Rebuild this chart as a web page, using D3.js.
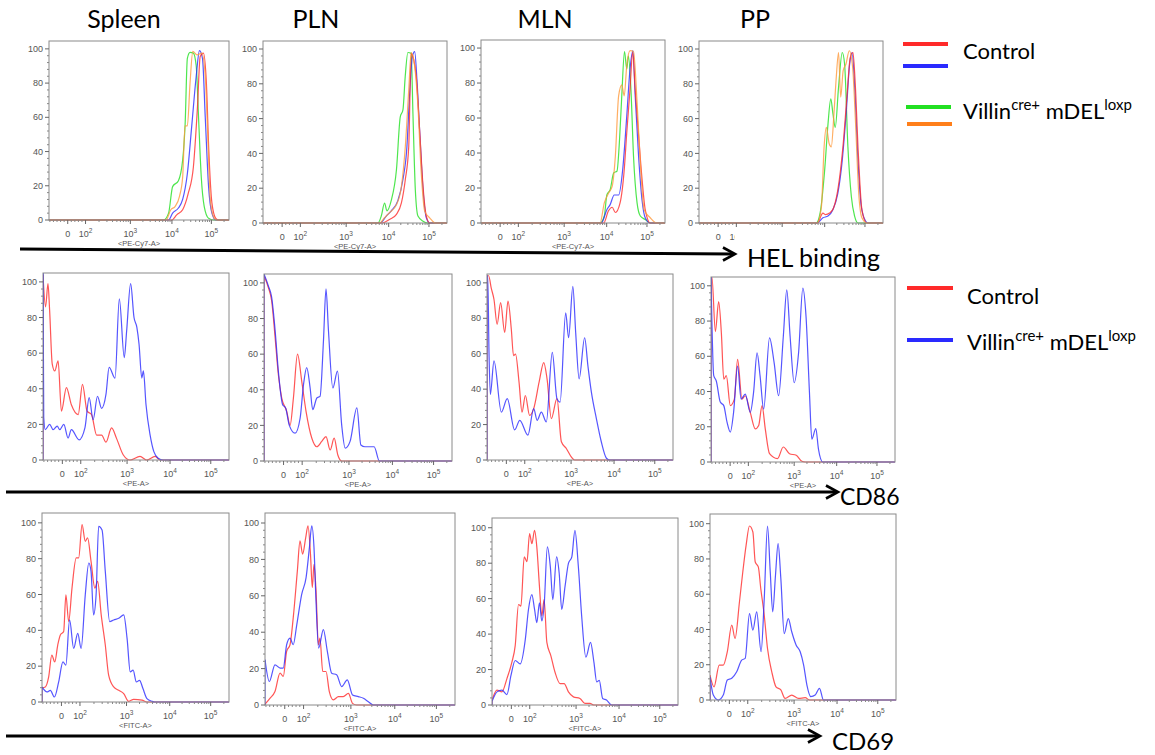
<!DOCTYPE html>
<html>
<head>
<meta charset="utf-8">
<script src="https://cdn.jsdelivr.net/npm/d3@7/dist/d3.min.js"></script>
<style>
  body { margin: 0; background: #fff; }
  svg { display: block; }
</style>
</head>
<body>
<svg id="fig" width="1155" height="755"></svg>
<script>
// ---- categories / labels ------------------------------------------------
const tissues  = ['Spleen', 'PLN', 'MLN', 'PP'];
const markers  = ['HEL binding', 'CD86', 'CD69'];
const channels = ['<PE-Cy7-A>', '<PE-A>', '<FITC-A>'];
const xTicks   = [0, 100, 1000, 10000, 100000];
const xTickExp = [null, 2, 3, 4, 5];
const yTicks   = [0, 20, 40, 60, 80, 100];

// ---- HEL binding histograms: [intensity, % of max] -----------------------
const spleenHelGreen  = [[6300,0],[8300,4],[10400,19.5],[14600,23],[18700,35],[21600,56],[24600,94.5],[28800,98],[35000,97.5],[41300,90],[47300,60],[55500,25],[65800,8],[85000,1],[112000,0]];
const spleenHelOrange = [[7200,0],[9400,6],[12100,8],[15600,14],[18700,25],[21500,55],[24600,55],[28800,80],[33800,98.5],[43200,96.5],[57500,97.5],[70000,84],[80500,51],[94000,12],[112000,2],[131000,0]];
const spleenHelBlue   = [[8300,0],[10400,4],[14600,7],[18700,12],[24600,27],[31800,55],[41300,84],[49900,99],[59500,94.5],[70000,60],[85000,19.5],[103000,4],[127000,0]];
const spleenHelRed    = [[9900,0],[13200,3],[18700,6],[25900,15.5],[35000,31],[44400,66],[52100,95.5],[63000,97.5],[74800,80],[86000,41],[103000,10],[127000,1],[148000,0]];

const plnHelGreen  = [[5600,0],[6700,4],[8000,11.5],[9100,7],[11600,13],[15600,30.6],[19400,61],[22600,65],[25700,84],[30000,98],[36200,97.5],[40000,63],[45900,19],[53300,4],[71300,1],[94000,0]];
const plnHelOrange = [[6100,0],[8000,3],[10500,6],[15600,10.5],[20700,21],[25900,44],[31500,76.5],[36200,98],[44200,90],[53300,67],[63600,30.6],[78500,6.7],[104000,3],[142000,0]];
const plnHelBlue   = [[6300,0],[8800,4],[11600,7],[17000,13],[22600,25],[28400,44],[32900,73],[38700,95.6],[44200,98.5],[50400,82],[58600,53.5],[71300,19],[86000,3],[104000,0]];
const plnHelRed    = [[7000,0],[10500,2],[15600,5],[20700,11.5],[25900,25],[31500,44],[36200,97.5],[41700,94],[48400,84],[58600,53.5],[71300,21],[86000,4],[104000,0]];

const mlnHelGreen  = [[7000,0],[8800,4],[10100,16],[12200,19],[15000,28.7],[18000,29.6],[20900,48],[23700,72.7],[27700,98],[31500,88],[34600,95.6],[40000,76.5],[46400,38],[56800,11.5],[68400,4],[90600,2],[119000,0]];
const mlnHelOrange = [[7000,0],[8800,11.5],[11100,17],[13700,21],[16400,38],[19800,72.7],[23700,79],[27300,72.7],[31500,90],[38000,98.5],[46400,98],[56800,69],[68400,34.4],[85000,7.6],[119000,3],[170000,0]];
const mlnHelBlue   = [[7500,0],[10100,7.6],[12200,10.5],[15400,16],[19800,16],[25000,30.6],[31500,61],[38000,88],[44900,98.5],[51000,72.7],[62000,38],[75500,13],[90600,3],[119000,0]];
const mlnHelRed    = [[8500,0],[11100,7],[13700,9],[16400,6],[21500,11.5],[27300,30.6],[31500,51.6],[38000,76.5],[44200,97.5],[51000,76.5],[62000,50],[75500,25],[90600,7.6],[119000,0]];

const ppHelGreen  = [[6300,0],[7800,5.7],[10000,30.5],[12100,57],[14200,71.4],[16000,63],[18300,55],[22100,78],[27300,98],[31200,91.4],[37700,43.8],[45900,15.2],[55500,3.8],[67000,0]];
const ppHelOrange = [[6700,0],[8400,9.5],[9700,43.8],[11000,55],[12900,45.7],[14600,43.8],[17000,62.9],[19400,83.8],[22100,98],[25000,72.4],[28800,87.6],[33800,91.4],[40800,99],[49400,89.5],[58000,59],[70000,17],[84000,3],[110000,0]];
const ppHelBlue   = [[6700,0],[9100,3],[12100,4],[16000,7.6],[21200,17],[27300,36],[34600,65],[41700,91.4],[47800,98],[55500,78],[67000,36],[81000,9.5],[104000,1],[117000,0]];
const ppHelRed    = [[6700,0],[9100,5.7],[10500,4.8],[13200,5.7],[16600,8.6],[21200,19],[28400,43.8],[35600,72.4],[43200,95.2],[50400,98],[56800,82],[68400,40],[84000,7.6],[110000,0]];

// ---- CD86 histograms ------------------------------------------------------
const spleenCd86Red  = [[-105,104],[-91,86],[-78,99],[-69,84],[-55,54],[-41,50],[-23,55.7],[-5,27.4],[22,40.6],[49,31],[86,25.5],[109,42.5],[137,27.4],[171,25.5],[220,14],[282,14],[350,10],[463,18],[595,12],[830,2.8],[1170,0],[2000,2],[2870,0],[4500,2],[5800,0]];
const spleenCd86Blue = [[-105,105],[-101,24],[-93,17],[-69,20],[-50,17],[-28,19],[-14,17],[8,20],[31,12.3],[49,17],[91,11.3],[123,18],[152,35],[185,22.6],[230,35.8],[282,29],[350,36.8],[410,52],[550,46],[680,90.5],[870,57.5],[980,72.6],[1210,99],[1450,80],[1690,74.5],[1900,65],[2200,46],[2400,50],[2760,31],[3440,14],[4200,4.7],[5300,1],[6900,0]];

const plnCd86Red  = [[-105,104],[-82,97.5],[-64,90],[-45,69],[-28,48.6],[-10,35.4],[17,27.9],[35,20],[53,35.4],[75,60],[98,44.6],[121,27.9],[161,12.8],[206,8],[262,11],[323,13.7],[397,6.2],[482,12.8],[578,3.4],[700,0]];
const plnCd86Blue = [[-105,105],[-82,98.5],[-64,92],[-45,73],[-28,50.5],[-5,31.6],[11,29.8],[31,20],[62,15.6],[89,24],[107,43],[125,52.4],[148,41],[168,28.8],[206,35.4],[241,36.3],[285,67.4],[323,96.6],[365,73],[452,41],[568,50.5],[700,20],[830,7.2],[1060,11],[1520,29.8],[1880,9],[2330,8],[3040,8],[3800,8],[5010,0]];

const mlnCd86Red  = [[-105,104],[-96,104],[-82,97],[-67,90.6],[-50,76.6],[-31,88.8],[-9,72],[9,89.7],[27,73.8],[39,58.9],[50,59.8],[69,43.9],[85,27],[103,36.4],[127,25.2],[156,29],[204,43.9],[257,55],[303,45.8],[375,23.4],[496,34.6],[618,10.3],[790,6.5],[1000,1.9],[1210,0]];
const mlnCd86Blue = [[-105,104],[-101,104],[-94,60],[-87,37],[-67,56],[-27,27],[5,34.6],[45,17],[73,22.4],[117,14],[156,29],[185,22.4],[228,27],[292,21.5],[393,60.7],[496,34.6],[580,32.7],[765,83],[885,69],[1100,98],[1280,72],[1540,45.8],[2070,69],[2470,53],[2970,38.3],[3880,23.4],[5050,10.3],[6650,1],[8000,0]];

const ppCd86Red  = [[-105,105],[-100,105],[-81,74],[-63,91],[-48,73],[-35,47],[-21,49],[1,32],[23,35.7],[41,58.3],[65,35.7],[83,37.6],[110,28.2],[142,18.8],[168,20.7],[199,32],[234,18.8],[290,4.7],[432,1.9],[580,8.5],[790,4.7],[1120,3.8],[1520,0.4],[1800,0]];
const ppCd86Blue = [[-105,105],[-90,49],[-76,46],[-54,34],[-35,32],[-17,22.6],[1,17],[19,28.2],[41,54.5],[60,35.7],[83,38.5],[110,28.2],[130,39.5],[155,62],[180,49],[216,30],[290,70.5],[365,56.4],[458,37.6],[580,71.4],[690,97.7],[815,71.4],[1000,45],[1270,62],[1600,98.7],[1900,82.7],[2290,39.5],[2600,13],[3230,19],[3720,7.5],[4710,0]];

// ---- CD69 histograms ------------------------------------------------------
const spleenCd69Red  = [[-105,7.9],[-87,8.4],[-69,14],[-52,26.2],[-36,22.4],[-20,31.8],[-6,37.4],[12,39.3],[24,59.8],[39,44.9],[57,63.6],[80,80.4],[93,80.4],[111,99],[130,89.7],[146,91.6],[173,78.5],[209,63.6],[240,67.3],[286,48.6],[350,31.8],[413,15],[530,8.4],[680,6.5],[870,4.7],[1120,0.4],[1460,1.5],[2290,1],[2970,0]];
const spleenCd69Blue = [[-105,8.4],[-78,5.6],[-60,6.5],[-38,2.8],[-15,11.2],[8,22.4],[24,20.6],[44,45.8],[66,29.9],[88,38.3],[106,29.9],[130,59.8],[155,77.6],[173,72.9],[196,48.6],[222,59.8],[252,98],[298,96],[350,72.9],[435,44.9],[530,45.8],[680,46.7],[870,48.6],[1030,35.5],[1220,16.8],[1420,17.8],[1690,11.2],[2000,12.1],[2400,7.5],[2970,1.9],[3880,0.4],[4500,0]];

const plnCd69Red  = [[-105,0.4],[-79,3.7],[-52,7.4],[-25,17.5],[-8,15.7],[10,29.5],[28,33.1],[45,47.9],[67,73.7],[81,90.2],[95,82.9],[111,92],[124,98.5],[140,82.9],[153,64.5],[166,77.3],[182,64.5],[206,33.1],[222,36.8],[254,18.4],[298,18.4],[350,7.4],[427,2.8],[545,4.6],[690,4.6],[885,6.4],[1090,0.9],[1350,0]];
const plnCd69Blue = [[-105,24.9],[-82,12.9],[-52,22.1],[-25,20.3],[-8,20.3],[10,33.1],[28,36.8],[45,33.1],[64,44.2],[90,60.8],[113,70],[133,86.6],[149,98.5],[166,86.6],[182,58.9],[208,31.3],[262,41.4],[318,29.5],[393,17.5],[500,16.6],[640,10.1],[840,13.8],[1090,5.5],[1480,4.6],[1930,3.7],[2500,1.8],[3230,0]];

const mlnCd69Red  = [[-105,2.8],[-78,8.4],[-51,7.4],[-24,14.9],[3,24.2],[21,33.5],[39,56.7],[52,55.8],[70,83.6],[85,80.9],[99,96.7],[111,91],[127,98.5],[142,89.2],[162,66.9],[182,50.2],[204,59.5],[234,35.3],[285,27.9],[350,18.6],[452,12.1],[552,12.1],[684,7.4],[877,4.6],[1230,3.7],[1610,0.9],[2110,0.9],[2600,0]];
const mlnCd69Blue = [[-105,1.9],[-78,7.4],[-51,8.4],[-24,5.9],[-2,16.7],[21,25.1],[48,23.2],[76,37.2],[93,53.9],[111,62.3],[127,53.9],[142,46.5],[162,57.6],[182,47.4],[204,55.8],[240,89.2],[278,78.1],[315,59.5],[380,83.6],[432,74.3],[490,53.9],[578,66.9],[684,79.9],[810,83.6],[945,98.5],[1130,78.1],[1350,50.2],[1690,27],[2170,35.3],[2600,24.2],[3030,13],[3470,13.9],[4150,3.7],[5110,2.8],[6720,0]];

const ppCd69Red  = [[-105,14],[-83,7.5],[-55,19.8],[-33,19.8],[-11,27.4],[13,42.5],[31,34.9],[55,55.7],[73,72.6],[91,87.7],[109,98.7],[129,95.3],[145,78.3],[169,75.5],[191,63.2],[227,48.1],[267,29.2],[330,16],[407,7.5],[518,5.7],[640,0.9],[890,2.8],[1270,0.9],[1820,1.3],[2300,0]];
const ppCd69Blue = [[-105,13],[-87,2.8],[-60,0],[-33,2.8],[-11,11.3],[13,12.3],[40,16],[67,22.6],[86,23.6],[109,49],[129,39.6],[156,50],[194,27.4],[227,57.5],[267,98.7],[306,72.6],[346,50],[397,70.8],[452,88.7],[518,68.9],[612,37.7],[750,46.2],[890,38.7],[1120,31.1],[1390,27.4],[1670,19.8],[1990,8.5],[2450,1.9],[3100,2.8],[3900,6.6],[4830,0]];

// ---- styling ---------------------------------------------------------------
const RED = '#ff2a2a', BLUE = '#2a2aff', GREEN = '#22e022', ORANGE = '#ff9a3c';

const rowCurves = [
  [ {color: GREEN,  panels: [spleenHelGreen, plnHelGreen, mlnHelGreen, ppHelGreen]},
    {color: BLUE,   panels: [spleenHelBlue, plnHelBlue, mlnHelBlue, ppHelBlue]},
    {color: RED,    panels: [spleenHelRed, plnHelRed, mlnHelRed, ppHelRed]},
    {color: ORANGE, panels: [spleenHelOrange, plnHelOrange, mlnHelOrange, ppHelOrange]} ],
  [ {color: RED,  panels: [spleenCd86Red, plnCd86Red, mlnCd86Red, ppCd86Red]},
    {color: BLUE, panels: [spleenCd86Blue, plnCd86Blue, mlnCd86Blue, ppCd86Blue]} ],
  [ {color: RED,  panels: [spleenCd69Red, plnCd69Red, mlnCd69Red, ppCd69Red]},
    {color: BLUE, panels: [spleenCd69Blue, plnCd69Blue, mlnCd69Blue, ppCd69Blue]} ]
];

// panel boxes [left, top, right, bottom] as laid out on the slide
const boxes = [
  [[49,41,229,220], [263,41,447,223], [481,40,665,223], [699,41,883,223]],
  [[43,273,229,460], [264,274,452,461], [487,274,673,460], [711,277,895,462]],
  [[42,513,229,702], [265,513,455,705], [492,518,678,705], [710,514,896,700]]
];
const yTop = [104.6, 105, 105.5];

// biexponential-like display transform (linear near zero, log above 100)
const X_MIN = -105, X_MAX = 262144;
function tf(v) { return v >= 100 ? Math.log10(v) : 1.6 + 0.004 * v; }
const xFrac = [0, 0.104, 0.203, 0.452, 0.683, 0.902, 1];
const xKnots = [tf(X_MIN), tf(0), tf(100), 3, 4, 5, tf(X_MAX)];

const xMinor = [];
for (let v = -100; v < 100; v += 20) if (v !== 0) xMinor.push(v);
[100, 1000, 10000].forEach(d => { for (let k = 2; k <= 9; k++) xMinor.push(k * d); });
xMinor.push(200000);
const yMinor = d3.range(0, 101, 4).filter(v => v % 20 !== 0);

const svg = d3.select('#fig');
const AXIS_FONT = 'Liberation Sans, Arial, sans-serif';
const TEXT_FONT = 'Lato, Carlito, Calibri, sans-serif';

// in the PP panel of the first row the label box of "HEL binding" hides the axis text
const HIDE_FROM_X = 735;

function drawPanel(r, c) {
  const [L, T, R, B] = boxes[r][c];
  const x = d3.scaleLinear().domain(xKnots).range(xFrac.map(f => L + f * (R - L)));
  const y = d3.scaleLinear().domain([0, yTop[r]]).range([B, T]);
  const g = svg.append('g');
  const hidden = (r === 0 && c === 3);

  const clipId = 'clip' + r + c;
  g.append('clipPath').attr('id', clipId)
    .append('rect').attr('x', L).attr('y', T).attr('width', R - L).attr('height', B - T + 1);

  const line = d3.line()
    .x(d => x(tf(d[0])))
    .y(d => y(d[1]))
    .curve(d3.curveMonotoneX);
  const edge = d3.line().x(d => x(tf(d[0]))).y(d => y(d[1]));

  const cg = g.append('g').attr('clip-path', 'url(#' + clipId + ')');
  rowCurves[r].forEach(s => {
    const pts = s.panels[c];
    const full = (pts[0][0] > X_MIN ? [[X_MIN, 0]] : []).concat(pts, [[X_MAX, 0]]);
    cg.append('path').attr('d', edge([[full[0][0], 0], full[0]]))
      .attr('fill', 'none').attr('stroke', s.color).attr('stroke-width', 1.2).attr('stroke-opacity', 0.8);
    cg.append('path').attr('d', line(full))
      .attr('fill', 'none').attr('stroke', s.color).attr('stroke-width', 1.2)
      .attr('stroke-opacity', 0.8).attr('stroke-linejoin', 'round');
  });

  g.append('rect').attr('x', L).attr('y', T).attr('width', R - L).attr('height', B - T)
    .attr('fill', 'none').attr('stroke', '#8a8a8a').attr('stroke-width', 1);

  // y axis
  yTicks.forEach(v => {
    g.append('line').attr('x1', L - 4).attr('x2', L).attr('y1', y(v)).attr('y2', y(v))
      .attr('stroke', '#666');
    g.append('text').attr('x', L - 6).attr('y', y(v)).attr('dy', '0.35em')
      .attr('text-anchor', 'end').attr('font-family', AXIS_FONT).attr('font-size', 9)
      .attr('fill', '#555').text(v);
  });
  yMinor.forEach(v => {
    g.append('line').attr('x1', L - 2).attr('x2', L).attr('y1', y(v)).attr('y2', y(v))
      .attr('stroke', '#888');
  });

  // x axis
  xMinor.forEach(v => {
    g.append('line').attr('x1', x(tf(v))).attr('x2', x(tf(v))).attr('y1', B).attr('y2', B + 2)
      .attr('stroke', '#888');
  });
  let labelG = g;
  if (hidden) {
    g.append('clipPath').attr('id', 'clipLab')
      .append('rect').attr('x', 0).attr('y', B).attr('width', HIDE_FROM_X).attr('height', 30);
    labelG = g.append('g').attr('clip-path', 'url(#clipLab)');
  }
  xTicks.forEach((v, i) => {
    const px = x(tf(v));
    g.append('line').attr('x1', px).attr('x2', px).attr('y1', B).attr('y2', B + 4).attr('stroke', '#666');
    if (hidden && px - 8 > HIDE_FROM_X) return;
    const t = labelG.append('text').attr('x', px).attr('y', B + 17).attr('text-anchor', 'middle')
      .attr('font-family', AXIS_FONT).attr('font-size', 9).attr('fill', '#555');
    if (xTickExp[i] === null) t.text('0');
    else {
      t.append('tspan').text('10');
      t.append('tspan').attr('dy', -4).attr('font-size', 6.5).text(xTickExp[i]);
    }
  });
  if (!hidden) {
    g.append('text').attr('x', (L + R) / 2).attr('y', B + 26).attr('text-anchor', 'middle')
      .attr('font-family', AXIS_FONT).attr('font-size', 7.5).attr('fill', '#555').text(channels[r]);
  }
}

for (let r = 0; r < 3; r++) for (let c = 0; c < 4; c++) drawPanel(r, c);

// column titles
const titleX = [124, 316, 545, 755];
tissues.forEach((t, i) => {
  svg.append('text').attr('x', titleX[i]).attr('y', 28).attr('text-anchor', 'middle')
    .attr('font-family', TEXT_FONT).attr('font-size', 25).attr('fill', '#000').text(t);
});

// arrows with marker names
const arrows = [
  {x1: 20, y1: 249, x2: 735, y2: 254, label: markers[0], lx: 747, ly: 267, size: 25},
  {x1: 6, y1: 492, x2: 838, y2: 492, label: markers[1], lx: 840, ly: 505, size: 23},
  {x1: 6, y1: 736, x2: 820, y2: 736, label: markers[2], lx: 832, ly: 750, size: 24}
];
arrows.forEach(a => {
  svg.append('line').attr('x1', a.x1).attr('y1', a.y1).attr('x2', a.x2 - 2).attr('y2', a.y2)
    .attr('stroke', '#000').attr('stroke-width', 3);
  svg.append('path')
    .attr('d', `M${a.x2 - 12},${a.y2 - 6.5}L${a.x2},${a.y2}L${a.x2 - 12},${a.y2 + 6.5}`)
    .attr('fill', 'none').attr('stroke', '#000').attr('stroke-width', 2.6);
  svg.append('text').attr('x', a.lx).attr('y', a.ly).attr('font-family', TEXT_FONT)
    .attr('font-size', a.size).attr('fill', '#000').text(a.label);
});

// legends
function villinText(xp, yp) {
  const t = svg.append('text').attr('x', xp).attr('y', yp).attr('font-family', TEXT_FONT)
    .attr('font-size', 22).attr('fill', '#000');
  t.append('tspan').text('Villin');
  t.append('tspan').attr('dy', -9).attr('font-size', 15).text('cre+');
  t.append('tspan').attr('dy', 9).text(' mDEL');
  t.append('tspan').attr('dy', -9).attr('font-size', 15).text('loxp');
}
const legendTop = [
  {color: RED, x1: 903, x2: 948, y: 44}, {color: BLUE, x1: 903, x2: 948, y: 66},
  {color: GREEN, x1: 906, x2: 951, y: 107}, {color: '#ff7f1a', x1: 907, x2: 952, y: 124}
];
const legendMid = [
  {color: RED, x1: 907, x2: 953, y: 288}, {color: BLUE, x1: 907, x2: 953, y: 340}
];
legendTop.concat(legendMid).forEach(l => {
  svg.append('line').attr('x1', l.x1).attr('x2', l.x2).attr('y1', l.y).attr('y2', l.y)
    .attr('stroke', l.color).attr('stroke-width', 4);
});
svg.append('text').attr('x', 963).attr('y', 59).attr('font-family', TEXT_FONT)
  .attr('font-size', 22).text('Control');
villinText(963, 119);
svg.append('text').attr('x', 967).attr('y', 304).attr('font-family', TEXT_FONT)
  .attr('font-size', 22).text('Control');
villinText(967, 350);
</script>
</body>
</html>
